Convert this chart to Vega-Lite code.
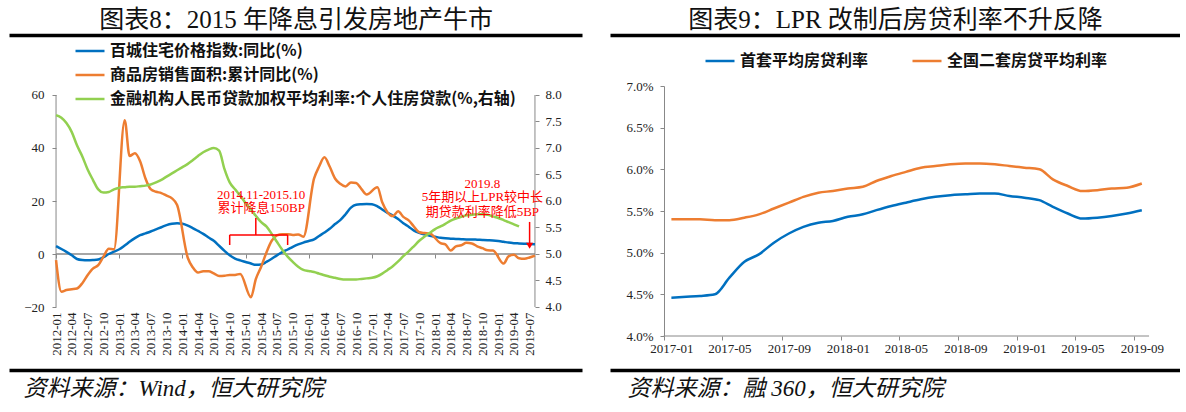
{
  "$schema": "https://vega.github.io/schema/vega-lite/v6.json",
  "background": "white",
  "padding": {"left": 9, "top": 7, "right": 0, "bottom": 0},
  "config": {
    "view": {"stroke": null},
    "axis": {"labelFont": "Liberation Serif", "labelFontSize": 13, "labelColor": "#222", "domainColor": "#888", "tickColor": "#888", "grid": false,
      "titleFont": "Liberation Serif, Noto Sans CJK SC", "titleFontWeight": "normal", "titleColor": "#111"},
    "legend": {"labelFont": "Noto Sans CJK SC", "labelFontSize": 16, "labelFontWeight": "bold", "labelColor": "#111", "labelLimit": 700, "symbolType": "stroke", "symbolSize": 841, "symbolStrokeWidth": 2.5, "labelOffset": 4}
  },
  "resolve": {"scale": {"color": "independent"}, "legend": {"color": "independent"}},
  "spacing": 28,
  "hconcat": [
    {
      "width": 573, "height": 250,
      "data": {"values": [
        {"m":"2012-01","hp":3.0,"sa":-2.3,"r":7.62},
        {"m":"2012-02","hp":1.9,"sa":-14.2,"r":7.57},
        {"m":"2012-03","hp":0.8,"sa":-13.6,"r":7.47},
        {"m":"2012-04","hp":-0.5,"sa":-13.3,"r":7.30},
        {"m":"2012-05","hp":-1.9,"sa":-13.0,"r":7.05},
        {"m":"2012-06","hp":-2.3,"sa":-11.0,"r":6.84},
        {"m":"2012-07","hp":-2.4,"sa":-8.0,"r":6.60},
        {"m":"2012-08","hp":-2.3,"sa":-5.5,"r":6.40},
        {"m":"2012-09","hp":-2.1,"sa":-4.2,"r":6.22},
        {"m":"2012-10","hp":-1.2,"sa":-1.0,"r":6.16},
        {"m":"2012-11","hp":0.0,"sa":2.0,"r":6.17},
        {"m":"2012-12","hp":0.9,"sa":1.8,"r":6.22},
        {"m":"2013-01","hp":1.8,"sa":null,"r":6.25},
        {"m":"2013-02","hp":3.2,"sa":50.5,"r":6.26},
        {"m":"2013-03","hp":4.6,"sa":37.0,"r":6.27},
        {"m":"2013-04","hp":6.0,"sa":38.0,"r":6.27},
        {"m":"2013-05","hp":7.1,"sa":35.0,"r":6.28},
        {"m":"2013-06","hp":7.8,"sa":28.5,"r":6.29},
        {"m":"2013-07","hp":8.5,"sa":24.5,"r":6.31},
        {"m":"2013-08","hp":9.3,"sa":23.5,"r":6.35},
        {"m":"2013-09","hp":10.1,"sa":23.0,"r":6.40},
        {"m":"2013-10","hp":10.9,"sa":22.0,"r":6.46},
        {"m":"2013-11","hp":11.4,"sa":21.0,"r":6.52},
        {"m":"2013-12","hp":11.6,"sa":18.5,"r":6.58},
        {"m":"2014-01","hp":11.4,"sa":null,"r":6.64},
        {"m":"2014-02","hp":10.7,"sa":-1.5,"r":6.70},
        {"m":"2014-03","hp":9.8,"sa":-5.0,"r":6.77},
        {"m":"2014-04","hp":8.7,"sa":-7.0,"r":6.85},
        {"m":"2014-05","hp":7.6,"sa":-6.5,"r":6.92},
        {"m":"2014-06","hp":6.2,"sa":-6.5,"r":6.97},
        {"m":"2014-07","hp":5.0,"sa":-7.3,"r":7.00},
        {"m":"2014-08","hp":3.1,"sa":-8.3,"r":6.95},
        {"m":"2014-09","hp":1.2,"sa":-8.2,"r":6.60},
        {"m":"2014-10","hp":-0.5,"sa":-7.9,"r":6.35},
        {"m":"2014-11","hp":-1.7,"sa":-7.9,"r":6.22},
        {"m":"2014-12","hp":-2.4,"sa":-7.5,"r":6.10},
        {"m":"2015-01","hp":-3.0,"sa":null,"r":5.96},
        {"m":"2015-02","hp":-3.6,"sa":-16.3,"r":5.84},
        {"m":"2015-03","hp":-4.1,"sa":-9.5,"r":5.72},
        {"m":"2015-04","hp":-4.0,"sa":-4.8,"r":5.60},
        {"m":"2015-05","hp":-3.0,"sa":0.5,"r":5.52},
        {"m":"2015-06","hp":-1.8,"sa":5.0,"r":5.38},
        {"m":"2015-07","hp":-0.5,"sa":7.0,"r":5.23},
        {"m":"2015-08","hp":0.7,"sa":7.5,"r":5.08},
        {"m":"2015-09","hp":1.7,"sa":7.5,"r":4.95},
        {"m":"2015-10","hp":2.7,"sa":7.2,"r":4.85},
        {"m":"2015-11","hp":3.6,"sa":7.4,"r":4.76},
        {"m":"2015-12","hp":4.3,"sa":6.5,"r":4.70},
        {"m":"2016-01","hp":4.9,"sa":null,"r":4.68},
        {"m":"2016-02","hp":5.5,"sa":28.5,"r":4.66},
        {"m":"2016-03","hp":6.8,"sa":33.0,"r":4.63},
        {"m":"2016-04","hp":8.1,"sa":36.5,"r":4.60},
        {"m":"2016-05","hp":9.5,"sa":33.0,"r":4.57},
        {"m":"2016-06","hp":11.3,"sa":28.5,"r":4.55},
        {"m":"2016-07","hp":12.8,"sa":26.5,"r":4.53},
        {"m":"2016-08","hp":15.0,"sa":25.5,"r":4.52},
        {"m":"2016-09","hp":17.5,"sa":27.0,"r":4.52},
        {"m":"2016-10","hp":18.6,"sa":26.8,"r":4.52},
        {"m":"2016-11","hp":18.8,"sa":24.5,"r":4.53},
        {"m":"2016-12","hp":18.9,"sa":22.5,"r":4.54},
        {"m":"2017-01","hp":18.8,"sa":null,"r":4.55},
        {"m":"2017-02","hp":18.0,"sa":25.2,"r":4.58},
        {"m":"2017-03","hp":16.8,"sa":19.5,"r":4.63},
        {"m":"2017-04","hp":15.5,"sa":15.7,"r":4.70},
        {"m":"2017-05","hp":14.5,"sa":14.3,"r":4.77},
        {"m":"2017-06","hp":13.2,"sa":16.1,"r":4.86},
        {"m":"2017-07","hp":11.6,"sa":14.0,"r":4.96},
        {"m":"2017-08","hp":10.3,"sa":12.7,"r":5.05},
        {"m":"2017-09","hp":8.8,"sa":10.3,"r":5.15},
        {"m":"2017-10","hp":8.0,"sa":8.2,"r":5.25},
        {"m":"2017-11","hp":7.4,"sa":7.9,"r":5.33},
        {"m":"2017-12","hp":6.9,"sa":7.7,"r":5.40},
        {"m":"2018-01","hp":6.5,"sa":null,"r":5.47},
        {"m":"2018-02","hp":6.1,"sa":4.1,"r":5.52},
        {"m":"2018-03","hp":5.9,"sa":3.6,"r":5.57},
        {"m":"2018-04","hp":5.8,"sa":1.3,"r":5.63},
        {"m":"2018-05","hp":5.7,"sa":2.9,"r":5.67},
        {"m":"2018-06","hp":5.6,"sa":3.3,"r":5.70},
        {"m":"2018-07","hp":5.5,"sa":4.2,"r":5.73},
        {"m":"2018-08","hp":5.5,"sa":4.0,"r":5.74},
        {"m":"2018-09","hp":5.4,"sa":2.9,"r":5.75},
        {"m":"2018-10","hp":5.3,"sa":2.2,"r":5.75},
        {"m":"2018-11","hp":5.2,"sa":1.4,"r":5.74},
        {"m":"2018-12","hp":5.1,"sa":1.3,"r":5.71},
        {"m":"2019-01","hp":4.9,"sa":null,"r":5.68},
        {"m":"2019-02","hp":4.6,"sa":-3.6,"r":5.64},
        {"m":"2019-03","hp":4.3,"sa":-0.9,"r":5.60},
        {"m":"2019-04","hp":4.1,"sa":-0.3,"r":5.56},
        {"m":"2019-05","hp":4.0,"sa":-1.6,"r":5.52},
        {"m":"2019-06","hp":3.9,"sa":-1.8,"r":null},
        {"m":"2019-07","hp":3.8,"sa":-1.3,"r":null},
        {"m":"2019-08","hp":3.7,"sa":-0.6,"r":null}
      ]},
      "resolve": {"scale": {"y": "independent"}, "axis": {"x": "independent", "y": "independent"}},
      "layer": [
        {
          "layer": [
            {
              "data": {"values": [{"m": "2012-01", "m2": "2019-08", "v": 0}]},
              "mark": {"type": "rule", "color": "#888", "strokeWidth": 1.5},
              "encoding": {
                "x": {"field": "m", "type": "temporal", "title": null,
                  "scale": {"type": "utc", "domain": [{"year": 2011, "month": 4, "date": 4, "utc": true}, {"year": 2020, "month": 4, "date": 29, "utc": true}]},
                  "axis": {"orient": "bottom", "offset": -82, "labels": false, "domain": false, "ticks": true, "tickSize": 4, "title": null,
                    "values": [{"year":2012,"month":1,"date":1,"utc":true},{"year":2012,"month":4,"date":1,"utc":true},{"year":2012,"month":7,"date":1,"utc":true},{"year":2012,"month":10,"date":1,"utc":true},{"year":2013,"month":1,"date":1,"utc":true},{"year":2013,"month":4,"date":1,"utc":true},{"year":2013,"month":7,"date":1,"utc":true},{"year":2013,"month":10,"date":1,"utc":true},{"year":2014,"month":1,"date":1,"utc":true},{"year":2014,"month":4,"date":1,"utc":true},{"year":2014,"month":7,"date":1,"utc":true},{"year":2014,"month":10,"date":1,"utc":true},{"year":2015,"month":1,"date":1,"utc":true},{"year":2015,"month":4,"date":1,"utc":true},{"year":2015,"month":7,"date":1,"utc":true},{"year":2015,"month":10,"date":1,"utc":true},{"year":2016,"month":1,"date":1,"utc":true},{"year":2016,"month":4,"date":1,"utc":true},{"year":2016,"month":7,"date":1,"utc":true},{"year":2016,"month":10,"date":1,"utc":true},{"year":2017,"month":1,"date":1,"utc":true},{"year":2017,"month":4,"date":1,"utc":true},{"year":2017,"month":7,"date":1,"utc":true},{"year":2017,"month":10,"date":1,"utc":true},{"year":2018,"month":1,"date":1,"utc":true},{"year":2018,"month":4,"date":1,"utc":true},{"year":2018,"month":7,"date":1,"utc":true},{"year":2018,"month":10,"date":1,"utc":true},{"year":2019,"month":1,"date":1,"utc":true},{"year":2019,"month":4,"date":1,"utc":true},{"year":2019,"month":7,"date":1,"utc":true}]}},
                "x2": {"field": "m2"},
                "y": {"field": "v", "type": "quantitative", "title": null,
                  "scale": {"domain": [-30.943, 63.396], "nice": false, "zero": false},
                  "axis": {"orient": "left", "offset": -47, "values": [-20, -10, 0, 10, 20, 30, 40, 50, 60], "domain": false, "tickSize": 4, "labelPadding": 8, "title": null}}
              }
            },
            {
              "data": {"values": [{"m": "2012-01", "v": -20, "v2": 60}, {"m": "2019-08", "v": -20, "v2": 60}]},
              "mark": {"type": "rule", "color": "#888", "strokeWidth": 1},
              "encoding": {
                "x": {"field": "m", "type": "temporal", "title": null},
                "y": {"field": "v", "type": "quantitative", "title": null},
                "y2": {"field": "v2"}
              }
            }
          ]
        },
        {
          "mark": {"type": "line", "strokeWidth": 2.5, "interpolate": "monotone"},
          "encoding": {
            "x": {"field": "m", "type": "temporal",
              "axis": {"orient": "bottom", "offset": -29, "format": "%Y-%m", "labelAngle": -90, "domain": false, "ticks": false, "labelPadding": 5, "title": null,
                "values": [{"year":2012,"month":1,"date":1,"utc":true},{"year":2012,"month":4,"date":1,"utc":true},{"year":2012,"month":7,"date":1,"utc":true},{"year":2012,"month":10,"date":1,"utc":true},{"year":2013,"month":1,"date":1,"utc":true},{"year":2013,"month":4,"date":1,"utc":true},{"year":2013,"month":7,"date":1,"utc":true},{"year":2013,"month":10,"date":1,"utc":true},{"year":2014,"month":1,"date":1,"utc":true},{"year":2014,"month":4,"date":1,"utc":true},{"year":2014,"month":7,"date":1,"utc":true},{"year":2014,"month":10,"date":1,"utc":true},{"year":2015,"month":1,"date":1,"utc":true},{"year":2015,"month":4,"date":1,"utc":true},{"year":2015,"month":7,"date":1,"utc":true},{"year":2015,"month":10,"date":1,"utc":true},{"year":2016,"month":1,"date":1,"utc":true},{"year":2016,"month":4,"date":1,"utc":true},{"year":2016,"month":7,"date":1,"utc":true},{"year":2016,"month":10,"date":1,"utc":true},{"year":2017,"month":1,"date":1,"utc":true},{"year":2017,"month":4,"date":1,"utc":true},{"year":2017,"month":7,"date":1,"utc":true},{"year":2017,"month":10,"date":1,"utc":true},{"year":2018,"month":1,"date":1,"utc":true},{"year":2018,"month":4,"date":1,"utc":true},{"year":2018,"month":7,"date":1,"utc":true},{"year":2018,"month":10,"date":1,"utc":true},{"year":2019,"month":1,"date":1,"utc":true},{"year":2019,"month":4,"date":1,"utc":true},{"year":2019,"month":7,"date":1,"utc":true}]}},
            "y": {"field": "hp", "type": "quantitative", "axis": null,
              "scale": {"domain": [-30.943, 63.396], "nice": false, "zero": false}},
            "color": {"datum": "hp", "type": "nominal",
              "scale": {"domain": ["hp", "sa", "r"], "range": ["#0070C0", "#ED7D31", "#92D050"]},
              "legend": {"orient": "none", "direction": "vertical", "legendX": 65, "legendY": -51, "padding": 0, "rowPadding": -13, "title": null,
                "labelExpr": "datum.label == 'hp' ? '百城住宅价格指数:同比(%)' : datum.label == 'sa' ? '商品房销售面积:累计同比(%)' : '金融机构人民币贷款加权平均利率:个人住房贷款(%,右轴)'"}}
          }
        },
        {
          "transform": [{"filter": "isValid(datum.sa)"}],
          "mark": {"type": "line", "strokeWidth": 2.5, "interpolate": "monotone"},
          "encoding": {
            "x": {"field": "m", "type": "temporal",
              "axis": {"orient": "top", "offset": 51, "labels": false, "ticks": false, "domain": true, "domainColor": "#000", "domainWidth": 3.5,
                "title": "图表8：2015 年降息引发房地产牛市", "titleX": 286.5, "titleY": -8, "titleAlign": "center", "titleBaseline": "alphabetic", "titleAngle": 0, "titleFontSize": 25}},
            "y": {"field": "sa", "type": "quantitative", "axis": null,
              "scale": {"domain": [-30.943, 63.396], "nice": false, "zero": false}},
            "color": {"datum": "sa", "type": "nominal",
              "scale": {"domain": ["hp", "sa", "r"], "range": ["#0070C0", "#ED7D31", "#92D050"]}}
          }
        },
        {
          "transform": [{"filter": "isValid(datum.r)"}],
          "mark": {"type": "line", "strokeWidth": 2.5, "interpolate": "monotone"},
          "encoding": {
            "x": {"field": "m", "type": "temporal",
              "axis": {"orient": "bottom", "offset": 34, "labels": false, "ticks": false, "domain": true, "domainColor": "#000", "domainWidth": 3.5,
                "title": "资料来源：Wind，恒大研究院", "titleX": 14, "titleY": 7, "titleAlign": "left", "titleBaseline": "top", "titleAngle": 0, "titleFontSize": 23, "titleFontStyle": "italic"}},
            "y": {"field": "r", "type": "quantitative", "title": null,
              "scale": {"domain": [3.4528, 8.1698], "nice": false, "zero": false},
              "axis": {"orient": "right", "offset": -47, "values": [4, 4.5, 5, 5.5, 6, 6.5, 7, 7.5, 8], "format": ".1f", "domain": false, "tickSize": 4, "labelPadding": 6, "title": null}},
            "color": {"datum": "r", "type": "nominal",
              "scale": {"domain": ["hp", "sa", "r"], "range": ["#0070C0", "#ED7D31", "#92D050"]}}
          }
        },
        {
          "layer": [
            {
              "data": {"values": [
                {"m": "2015-04", "v": 22.3, "t": "2014.11-2015.10"},
                {"m": "2015-04", "v": 17.5, "t": "累计降息150BP"},
                {"m": "2018-10", "v": 26.6, "t": "2019.8"},
                {"m": "2018-10", "v": 21.5, "t": "5年期以上LPR较中长"},
                {"m": "2018-10", "v": 15.8, "t": "期贷款利率降低5BP"}
              ]},
              "mark": {"type": "text", "color": "#FF0000", "fontSize": 13, "font": "Liberation Serif, Noto Sans CJK SC", "align": "center", "baseline": "middle"},
              "encoding": {
                "x": {"field": "m", "type": "temporal", "axis": null},
                "y": {"field": "v", "type": "quantitative", "axis": null,
                  "scale": {"domain": [-30.943, 63.396], "nice": false, "zero": false}},
                "text": {"field": "t"}
              }
            },
            {
              "data": {"values": [
                {"m": "2014-10", "m2": "2015-09", "v": 7.2, "v2": 7.2},
                {"m": "2014-10", "m2": "2014-10", "v": 7.2, "v2": 3.4},
                {"m": "2015-09", "m2": "2015-09", "v": 7.2, "v2": 3.4},
                {"m": "2015-03", "m2": "2015-03", "v": 7.2, "v2": 13.6},
                {"m": "2019-07", "m2": "2019-07", "v": 12.1, "v2": 4.0}
              ]},
              "mark": {"type": "rule", "color": "#FF0000", "strokeWidth": 1.5},
              "encoding": {
                "x": {"field": "m", "type": "temporal", "axis": null},
                "x2": {"field": "m2"},
                "y": {"field": "v", "type": "quantitative", "axis": null},
                "y2": {"field": "v2"}
              }
            },
            {
              "data": {"values": [{"m": "2019-07", "v": 3.1}]},
              "mark": {"type": "point", "shape": "triangle-down", "filled": true, "color": "#FF0000", "size": 50, "opacity": 1},
              "encoding": {
                "x": {"field": "m", "type": "temporal", "axis": null},
                "y": {"field": "v", "type": "quantitative", "axis": null}
              }
            }
          ]
        }
      ]
    },
    {
      "width": 570, "height": 250,
      "data": {"values": [
        {"m":"2017-01","a":4.46,"b":5.40},
        {"m":"2017-02","a":4.47,"b":5.40},
        {"m":"2017-03","a":4.48,"b":5.40},
        {"m":"2017-04","a":4.50,"b":5.39},
        {"m":"2017-05","a":4.70,"b":5.39},
        {"m":"2017-06","a":4.89,"b":5.42},
        {"m":"2017-07","a":4.98,"b":5.46},
        {"m":"2017-08","a":5.12,"b":5.53},
        {"m":"2017-09","a":5.23,"b":5.60},
        {"m":"2017-10","a":5.31,"b":5.67},
        {"m":"2017-11","a":5.36,"b":5.72},
        {"m":"2017-12","a":5.38,"b":5.74},
        {"m":"2018-01","a":5.43,"b":5.77},
        {"m":"2018-02","a":5.46,"b":5.79},
        {"m":"2018-03","a":5.51,"b":5.86},
        {"m":"2018-04","a":5.56,"b":5.92},
        {"m":"2018-05","a":5.60,"b":5.97},
        {"m":"2018-06","a":5.64,"b":6.02},
        {"m":"2018-07","a":5.67,"b":6.04},
        {"m":"2018-08","a":5.69,"b":6.06},
        {"m":"2018-09","a":5.70,"b":6.07},
        {"m":"2018-10","a":5.71,"b":6.07},
        {"m":"2018-11","a":5.71,"b":6.06},
        {"m":"2018-12","a":5.68,"b":6.04},
        {"m":"2019-01","a":5.66,"b":6.02},
        {"m":"2019-02","a":5.63,"b":6.00},
        {"m":"2019-03","a":5.55,"b":5.88},
        {"m":"2019-04","a":5.47,"b":5.80},
        {"m":"2019-05","a":5.41,"b":5.74},
        {"m":"2019-06","a":5.42,"b":5.75},
        {"m":"2019-07","a":5.44,"b":5.77},
        {"m":"2019-08","a":5.47,"b":5.78},
        {"m":"2019-09","a":5.51,"b":5.83}
      ]},
      "resolve": {"scale": {"y": "independent"}, "axis": {"x": "independent", "y": "independent"}},
      "layer": [
        {
          "data": {"values": [{"m": "2016-12-16", "m2": "2019-09-16", "v": 4}]},
          "mark": {"type": "rule", "color": "#888", "strokeWidth": 1},
          "encoding": {
            "x": {"field": "m", "type": "temporal",
              "scale": {"type": "utc", "domain": [{"year": 2016, "month": 8, "date": 27, "utc": true}, {"year": 2019, "month": 11, "date": 19, "utc": true}]},
              "axis": {"orient": "bottom", "format": "%Y-%m", "labelAngle": 0, "domain": false, "ticks": true, "tickSize": 4, "tickOffset": -7.35, "labelOffset": 7.35, "labelPadding": 2, "title": null,
                "values": [{"year":2017,"month":1,"date":1,"utc":true},{"year":2017,"month":5,"date":1,"utc":true},{"year":2017,"month":9,"date":1,"utc":true},{"year":2018,"month":1,"date":1,"utc":true},{"year":2018,"month":5,"date":1,"utc":true},{"year":2018,"month":9,"date":1,"utc":true},{"year":2019,"month":1,"date":1,"utc":true},{"year":2019,"month":5,"date":1,"utc":true},{"year":2019,"month":9,"date":1,"utc":true}]}},
            "x2": {"field": "m2"},
            "y": {"field": "v", "type": "quantitative", "title": null,
              "scale": {"domain": [4, 7], "nice": false, "zero": false},
              "axis": {"orient": "left", "offset": -54, "values": [4, 4.5, 5, 5.5, 6, 6.5, 7], "labelExpr": "format(datum.value, '.1f') + '%'", "tickSize": 4, "labelPadding": 7, "title": null}}
          }
        },
        {
          "mark": {"type": "line", "strokeWidth": 2.5, "interpolate": "monotone"},
          "encoding": {
            "x": {"field": "m", "type": "temporal",
              "axis": {"orient": "top", "offset": 51, "labels": false, "ticks": false, "domain": true, "domainColor": "#000", "domainWidth": 3.5,
                "title": "图表9：LPR 改制后房贷利率不升反降", "titleX": 285, "titleY": -8, "titleAlign": "center", "titleBaseline": "alphabetic", "titleAngle": 0, "titleFontSize": 25}},
            "y": {"field": "a", "type": "quantitative", "axis": null,
              "scale": {"domain": [4, 7], "nice": false, "zero": false}},
            "color": {"datum": "a", "type": "nominal",
              "scale": {"domain": ["a", "b"], "range": ["#0070C0", "#ED7D31"]},
              "legend": {"orient": "none", "direction": "horizontal", "legendX": 94, "legendY": -41, "padding": 0, "columnPadding": 38, "title": null,
                "labelExpr": "datum.label == 'a' ? '首套平均房贷利率' : '全国二套房贷平均利率'"}}
          }
        },
        {
          "mark": {"type": "line", "strokeWidth": 2.5, "interpolate": "monotone"},
          "encoding": {
            "x": {"field": "m", "type": "temporal",
              "axis": {"orient": "bottom", "offset": 34, "labels": false, "ticks": false, "domain": true, "domainColor": "#000", "domainWidth": 3.5,
                "title": "资料来源：融 360，恒大研究院", "titleX": 17, "titleY": 7, "titleAlign": "left", "titleBaseline": "top", "titleAngle": 0, "titleFontSize": 23, "titleFontStyle": "italic"}},
            "y": {"field": "b", "type": "quantitative", "axis": null,
              "scale": {"domain": [4, 7], "nice": false, "zero": false}},
            "color": {"datum": "b", "type": "nominal",
              "scale": {"domain": ["a", "b"], "range": ["#0070C0", "#ED7D31"]}}
          }
        }
      ]
    }
  ]
}
